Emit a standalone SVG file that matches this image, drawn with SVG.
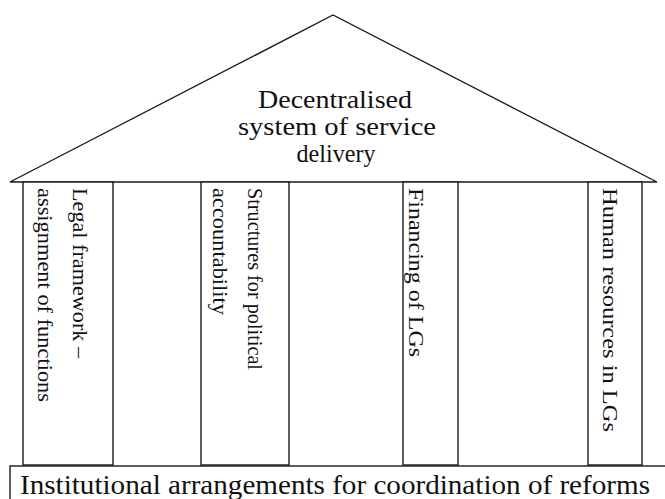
<svg xmlns="http://www.w3.org/2000/svg" width="665" height="499" viewBox="0 0 665 499">
<style>
.ln{fill:#fff;stroke:#1a1a1a;stroke-width:1.4}
.t{font-family:"Liberation Serif","Times New Roman",serif;fill:#111}
.roof{font-size:25px;text-anchor:middle}
.pil{font-size:22px}
.base{font-size:27px}
</style>
<rect width="665" height="499" fill="#fff"/>
<g id="base">
<rect class="ln" x="10" y="466" width="700" height="60"/>
<text class="t base" x="20" y="494" textLength="630" lengthAdjust="spacingAndGlyphs">Institutional arrangements for coordination of reforms</text>
</g>
<g id="roof">
<polygon class="ln" points="10,182 333,15 657,182"/>
<text class="t roof" x="335" y="108" textLength="154" lengthAdjust="spacingAndGlyphs">Decentralised</text>
<text class="t roof" x="337" y="135" textLength="198" lengthAdjust="spacingAndGlyphs">system of service</text>
<text class="t roof" x="336" y="162" textLength="79" lengthAdjust="spacingAndGlyphs">delivery</text>
</g>
<g id="pillar1">
<rect class="ln" x="23" y="182" width="90" height="283"/>
<text class="t pil" transform="translate(73,188) rotate(90)" textLength="170" lengthAdjust="spacingAndGlyphs">Legal framework –</text>
<text class="t pil" transform="translate(38,188) rotate(90)" textLength="214" lengthAdjust="spacingAndGlyphs">assignment of functions</text>
</g>
<g id="pillar2">
<rect class="ln" x="201" y="182" width="88" height="283"/>
<text class="t pil" transform="translate(248,188) rotate(90)" textLength="182" lengthAdjust="spacingAndGlyphs">Structures for political</text>
<text class="t pil" transform="translate(213,188) rotate(90)" textLength="127" lengthAdjust="spacingAndGlyphs">accountability</text>
</g>
<g id="pillar3">
<rect class="ln" x="403" y="182" width="55" height="283"/>
<text class="t pil" transform="translate(409,188) rotate(90)" textLength="169" lengthAdjust="spacingAndGlyphs">Financing of LGs</text>
</g>
<g id="pillar4">
<rect class="ln" x="588" y="182" width="54" height="283"/>
<text class="t pil" transform="translate(603,188) rotate(90)" textLength="244" lengthAdjust="spacingAndGlyphs">Human resources in LGs</text>
</g>
<g id="connectors"></g>
</svg>
